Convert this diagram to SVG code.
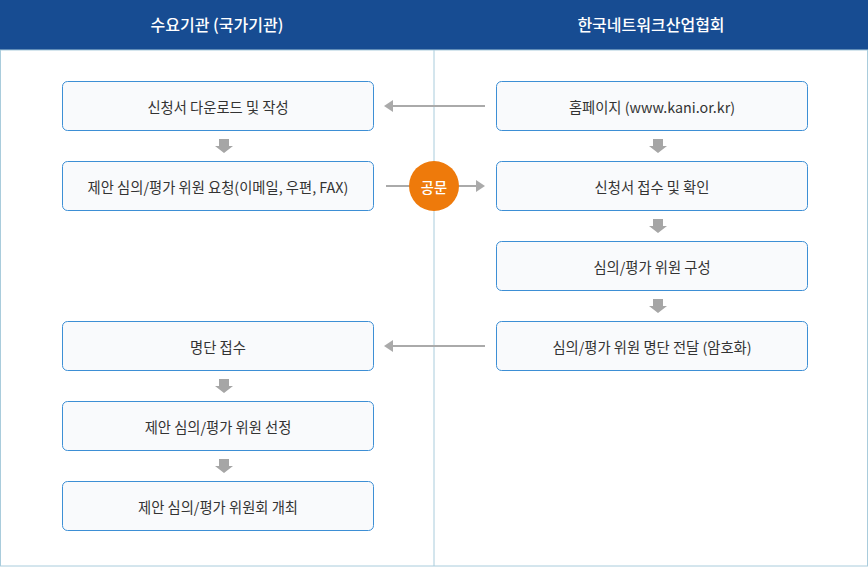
<svg xmlns="http://www.w3.org/2000/svg" width="868" height="567" viewBox="0 0 868 567">
<defs>
<style>
.hdr{fill:#174c92}
.htxt{font-family:"Noto Sans CJK KR","Noto Sans",sans-serif;font-size:16px;font-weight:500;fill:#fff;text-anchor:middle}
.box{fill:#f9fafc;stroke:#3d8fd5;stroke-width:1}
.txt{font-family:"Noto Sans CJK KR","Noto Sans",sans-serif;font-size:14.3px;fill:#333;text-anchor:middle;dominant-baseline:central}
.down{fill:#a6a6a6}
.line{stroke:#aaaaaa;stroke-width:2;fill:none}
.head{fill:#aaaaaa}
</style>
<path id="dn" d="M-5,0 h10 v7 h4 l-9,7 l-9,-7 h4 z"/>
</defs>
<rect x="0" y="0" width="868" height="50" class="hdr"/>
<rect x="0.5" y="50" width="867" height="516" fill="#fff" stroke="#a9ccdc" stroke-width="1"/>
<line x1="434" y1="50" x2="434" y2="566" stroke="#a9ccdc" stroke-width="1"/>
<text x="217" y="31" class="htxt">수요기관 (국가기관)</text>
<text x="651" y="31" class="htxt">한국네트워크산업협회</text>

<g id="connectors">
<use href="#dn" x="224" y="139" class="down"/>
<use href="#dn" x="224" y="379" class="down"/>
<use href="#dn" x="224" y="459" class="down"/>
<use href="#dn" x="658" y="139" class="down"/>
<use href="#dn" x="658" y="219" class="down"/>
<use href="#dn" x="658" y="299" class="down"/>
<line x1="485" y1="106" x2="392" y2="106" class="line"/>
<path d="M384,106 L393,100 L393,112 Z" class="head"/>
<line x1="485" y1="346" x2="392" y2="346" class="line"/>
<path d="M384,346 L393,340 L393,352 Z" class="head"/>
<line x1="386" y1="186" x2="477" y2="186" class="line"/>
<path d="M485,186 L476,180 L476,192 Z" class="head"/>
</g>

<g id="gongmun">
<circle cx="434" cy="186" r="25" fill="#ee7a0b"/>
<text x="434" y="186" class="txt" style="fill:#fff;font-weight:500">공문</text>
</g>

<g id="n1"><rect x="62.5" y="81.5" width="311" height="49" rx="5" class="box"/><text x="218" y="106" class="txt">신청서 다운로드 및 작성</text></g>
<g id="n2"><rect x="62.5" y="161.5" width="311" height="49" rx="5" class="box"/><text x="218" y="186" class="txt">제안 심의/평가 위원 요청(이메일, 우편, FAX)</text></g>
<g id="n3"><rect x="62.5" y="321.5" width="311" height="49" rx="5" class="box"/><text x="218" y="346" class="txt">명단 접수</text></g>
<g id="n4"><rect x="62.5" y="401.5" width="311" height="49" rx="5" class="box"/><text x="218" y="426" class="txt">제안 심의/평가 위원 선정</text></g>
<g id="n5"><rect x="62.5" y="481.5" width="311" height="49" rx="5" class="box"/><text x="218" y="506" class="txt">제안 심의/평가 위원회 개최</text></g>

<g id="r1"><rect x="496.5" y="81.5" width="311" height="49" rx="5" class="box"/><text x="652" y="106" class="txt">홈페이지 (www.kani.or.kr)</text></g>
<g id="r2"><rect x="496.5" y="161.5" width="311" height="49" rx="5" class="box"/><text x="652" y="186" class="txt">신청서 접수 및 확인</text></g>
<g id="r3"><rect x="496.5" y="241.5" width="311" height="49" rx="5" class="box"/><text x="652" y="266" class="txt">심의/평가 위원 구성</text></g>
<g id="r4"><rect x="496.5" y="321.5" width="311" height="49" rx="5" class="box"/><text x="652" y="346" class="txt">심의/평가 위원 명단 전달 (암호화)</text></g>
</svg>
